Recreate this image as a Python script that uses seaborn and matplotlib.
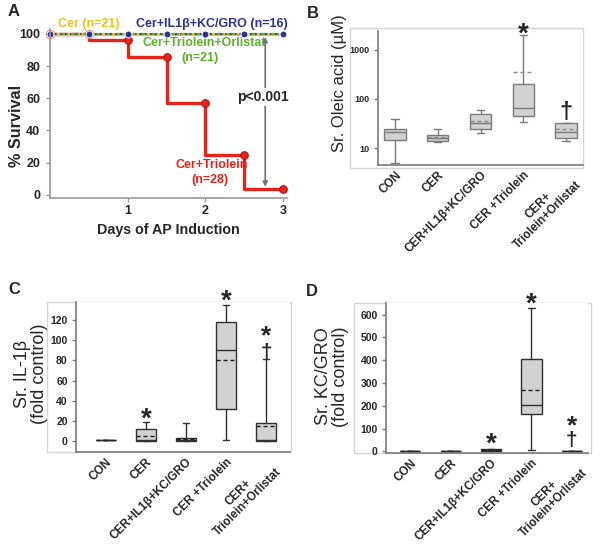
import matplotlib
matplotlib.use("Agg")
import matplotlib.pyplot as plt
from matplotlib.patches import Rectangle
import seaborn as sns
import pandas as pd

sns.set_style("white")
plt.rcParams['font.family'] = ['Liberation Sans', 'DejaVu Sans']

# ---------------- Panel A data ----------------
days = [0, 0.5, 1, 1.5, 2, 2.5, 3]
surv_cer = [100, 100, 100, 100, 100, 100, 100]
surv_cer_il = [100, 100, 100, 100, 100, 100, 100]
surv_cer_orl = [100, 100, 100, 100, 100, 100, 100]
surv_cer_trio = [100, 100, 96.4, 85.7, 57.1, 25.0, 3.6]
day_ticks = [1, 2, 3]
surv_ticks = [0, 20, 40, 60, 80, 100]

# ---------------- Box panels ----------------
groups = ["CON", "CER", "CER+IL1β+KC/GRO", "CER +Triolein", "CER+\nTriolein+Orlistat"]

# B: Oleic acid (µM)
b_whislo = [5.0, 13.5, 20.6, 34.4, 13.9]
b_q1 = [14.6, 14.1, 24.0, 45.0, 16.2]
b_med = [21.0, 16.3, 32.0, 64.6, 21.0]
b_mean = [21.5, 17.0, 36.0, 361.0, 24.0]
b_q3 = [25.0, 18.4, 48.6, 202.0, 32.0]
b_whishi = [39.0, 24.5, 60.0, 2020.0, 33.0]
b_ticks = [10, 100, 1000]

# C: IL-1β (fold control)
c_whislo = [1, 0, 0, 1, 0]
c_q1 = [1, 0, 0, 32, 0]
c_med = [1, 1, 1, 90, 1]
c_mean = [1, 4.5, 1.5, 80, 15]
c_q3 = [1, 11.6, 2.6, 118, 17.5]
c_whishi = [1, 19, 17.5, 135.5, 81]
c_ticks = [0, 20, 40, 60, 80, 100, 120]

# D: KC/GRO (fold control)
d_whislo = [1, 0, 2, 4, 0]
d_q1 = [1, 0, 3, 165, 0]
d_med = [1, 1, 6, 205, 1]
d_mean = [1, 1, 8, 271, 1]
d_q3 = [1, 1, 10, 405, 1]
d_whishi = [1, 2, 12, 630, 1]
d_ticks = [0, 100, 200, 300, 400, 500, 600]

W, H = 602, 560
fig = plt.figure(figsize=(W / 100, H / 100), dpi=100)


def ax_px(l, t, r, b):
    return fig.add_axes([l / W, 1 - b / H, (r - l) / W, (b - t) / H])


def frame_px(l, t, r, b):
    fig.add_artist(Rectangle((l / W, 1 - b / H), (r - l) / W, (b - t) / H,
                             transform=fig.transFigure, facecolor="none",
                             edgecolor="#d6d6d6", lw=1.0, zorder=0))


# ================= Panel A =================
axA = ax_px(50, 29, 287, 198)
dfA = pd.DataFrame({"day": days, "trio": surv_cer_trio, "cer": surv_cer,
                    "orl": surv_cer_orl, "il": surv_cer_il})
sns.lineplot(data=dfA, x="day", y="trio", ax=axA, color="#e5231b", lw=2.4,
             drawstyle="steps-pre", marker="o", markersize=5.5,
             markeredgecolor="#b01010", clip_on=False, estimator=None)
sns.lineplot(data=dfA, x="day", y="cer", ax=axA, color="#f2c21a", lw=2.2,
             estimator=None, clip_on=False)
sns.lineplot(data=dfA, x="day", y="orl", ax=axA, color="#5fae2e", lw=1.6,
             linestyle=(0, (3, 2)), estimator=None, clip_on=False)
sns.lineplot(data=dfA, x="day", y="il", ax=axA, color="#2e3192", lw=1.2,
             linestyle=(0, (1, 2)), marker="o", markersize=5, estimator=None,
             clip_on=False)
axA.set_xlim(0, 3.05)
axA.set_ylim(-2, 103)
axA.set_xticks(day_ticks)
axA.set_yticks(surv_ticks)
for sp in ["top", "right"]:
    axA.spines[sp].set_visible(False)
for sp in ["left", "bottom"]:
    axA.spines[sp].set_color("#9a9a9a")
    axA.spines[sp].set_linewidth(1.2)
axA.tick_params(axis="y", left=True, length=3, width=1, color="#9a9a9a",
                pad=4, labelsize=9)
axA.tick_params(axis="x", bottom=True, length=3, width=1, color="#9a9a9a",
                pad=2, labelsize=9)
for lab in axA.get_xticklabels() + axA.get_yticklabels():
    lab.set_fontweight("bold")
axA.set_xlabel("Days of AP Induction", fontsize=10.3, fontweight="bold", labelpad=4)
axA.set_ylabel("% Survival", fontsize=11.7, fontweight="bold")
axA.yaxis.set_label_coords(-0.11, 0.426)

axA.text(0.5, 106, "Cer (n=21)", color="#f2c21a", fontsize=9, fontweight="bold",
         ha="center", va="center", clip_on=False)
axA.text(2.08, 106, "Cer+IL1β+KC/GRO (n=16)", color="#2e3192", fontsize=9,
         fontweight="bold", ha="center", va="center", clip_on=False)
axA.text(1.98, 94.3, "Cer+Triolein+Orlistat", color="#5fae2e", fontsize=9,
         fontweight="bold", ha="center", va="center")
axA.text(1.93, 85, "(n=21)", color="#5fae2e", fontsize=9, fontweight="bold",
         ha="center", va="center")
axA.text(2.08, 18.6, "Cer+Triolein", color="#e5231b", fontsize=9,
         fontweight="bold", ha="center", va="center")
axA.text(2.06, 9.3, "(n=28)", color="#e5231b", fontsize=9, fontweight="bold",
         ha="center", va="center")
axA.annotate("", xy=(2.77, 98), xytext=(2.77, 5),
             arrowprops=dict(arrowstyle="<|-|>", color="#707070", lw=1.2,
                             mutation_scale=7, shrinkA=0, shrinkB=0))
axA.text(2.74, 61, "p<0.001", fontsize=10, fontweight="bold", ha="center",
         va="center", bbox=dict(facecolor="white", edgecolor="none", pad=1.5))


# ================= Box helper =================
def draw_boxes(ax, lo, q1, med, mean, q3, hi, edge, meancol, lw):
    stats = []
    for i in range(len(groups)):
        stats.append(dict(whislo=lo[i], q1=q1[i], med=med[i], mean=mean[i],
                          q3=q3[i], whishi=hi[i], fliers=[]))
    ax.bxp(stats, positions=list(range(len(groups))), widths=0.5,
           patch_artist=True, showmeans=True, meanline=True, showfliers=False,
           boxprops=dict(facecolor="#d2d2d2", edgecolor=edge, linewidth=lw),
           medianprops=dict(color=edge, linewidth=lw),
           meanprops=dict(color=meancol, linestyle=(0, (3, 2)), linewidth=lw),
           whiskerprops=dict(color=edge, linewidth=lw),
           capprops=dict(color=edge, linewidth=lw), capwidths=0.17)


def style_box_ax(ax, ylabel, label_x, label_y, ylab_size, tick_size):
    ax.spines["right"].set_visible(False)
    ax.spines["top"].set_visible(False)
    for sp in ["left", "bottom"]:
        ax.spines[sp].set_color("#7a7a7a")
        ax.spines[sp].set_linewidth(1.2)
    ax.tick_params(axis="y", left=True, length=3, width=1, color="#7a7a7a",
                   pad=3, labelsize=tick_size)
    ax.tick_params(axis="x", length=0, pad=3)
    ax.set_xticks(range(len(groups)))
    ax.set_xticklabels(groups, rotation=45, ha="right", rotation_mode="anchor",
                       fontsize=8.5, fontweight="bold", multialignment="center")
    for lab in ax.get_yticklabels():
        lab.set_fontweight("bold")
    ax.set_ylabel(ylabel, fontsize=ylab_size, linespacing=1.0)
    ax.yaxis.set_label_coords(label_x, label_y)


# ================= Panel B =================
frame_px(350, 28, 583, 168)
axB = ax_px(378, 31, 583, 165)
draw_boxes(axB, b_whislo, b_q1, b_med, b_mean, b_q3, b_whishi, "#7a7a7a", "#8a8a8a", 1.0)
axB.set_yscale("log")
axB.set_ylim(4.5, 2440)
axB.set_xlim(-0.4, 4.4)
axB.set_yticks(b_ticks)
axB.set_yticklabels([str(t) for t in b_ticks])
axB.minorticks_off()
style_box_ax(axB, "Sr. Oleic acid (µM)", -0.15, 0.61, 12, 6.5)
axB.text(3, 2070, "*", fontsize=20, fontweight="bold", ha="center", va="center", clip_on=False)
axB.text(4, 52, "†", fontsize=17, fontweight="bold", ha="center", va="center")

# ================= Panel C =================
frame_px(47, 302, 291, 452)
axC = ax_px(76, 302, 290, 452)
draw_boxes(axC, c_whislo, c_q1, c_med, c_mean, c_q3, c_whishi, "#303030", "#202020", 1.0)
axC.set_ylim(-11, 138)
axC.set_xlim(-0.75, 4.6)
axC.set_yticks(c_ticks)
style_box_ax(axC, "Sr. IL-1β\n(fold control)", -0.13, 0.52, 13, 7.5)
axC.text(1, 21, "*", fontsize=20, fontweight="bold", ha="center", va="center")
axC.text(3, 138, "*", fontsize=20, fontweight="bold", ha="center", va="center", clip_on=False)
axC.text(4, 104, "*", fontsize=19, fontweight="bold", ha="center", va="center")
axC.text(4, 88, "†", fontsize=15, fontweight="bold", ha="center", va="center")

# ================= Panel D =================
frame_px(354, 303, 591, 453)
axD = ax_px(386, 303, 588, 453)
draw_boxes(axD, d_whislo, d_q1, d_med, d_mean, d_q3, d_whishi, "#303030", "#202020", 1.0)
axD.set_ylim(-7, 651)
axD.set_xlim(-0.6, 4.4)
axD.set_yticks(d_ticks)
style_box_ax(axD, "Sr. KC/GRO\n(fold control)", -0.183, 0.51, 13, 7.5)
axD.text(2, 31, "*", fontsize=20, fontweight="bold", ha="center", va="center")
axD.text(3, 644, "*", fontsize=20, fontweight="bold", ha="center", va="center", clip_on=False)
axD.text(4, 112, "*", fontsize=19, fontweight="bold", ha="center", va="center")
axD.text(4, 46, "†", fontsize=15, fontweight="bold", ha="center", va="center")

# Panel letters
for letter, (x, y) in {"A": (8, 12), "B": (307, 14), "C": (8, 289), "D": (306, 292)}.items():
    fig.text(x / W, 1 - y / H, letter, fontsize=12, fontweight="bold",
             ha="left", va="center")

fig.savefig("out.png", dpi=100)
